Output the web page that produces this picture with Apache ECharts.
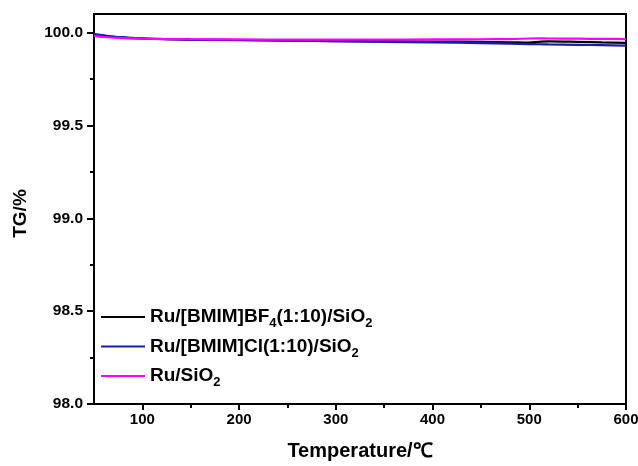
<!DOCTYPE html>
<html>
<head>
<meta charset="utf-8">
<script src="https://cdn.jsdelivr.net/npm/echarts@6/dist/echarts.min.js"></script>
<style>
  html, body { margin: 0; padding: 0; background: #fff; }
  #chart { width: 638px; height: 466px; }
</style>
</head>
<body>
<div id="chart"></div>
<script>
// Temperature sampling points (°C)
const temperature = [50, 60, 75, 100, 125, 150, 200, 250, 300, 350, 400, 450, 480, 500, 510, 520, 550, 575, 600];

// TG (%) curves
const tgBF4   = [99.990, 99.983, 99.975, 99.968, 99.964, 99.962, 99.960, 99.958, 99.956, 99.954, 99.952, 99.950, 99.948, 99.946, 99.950, 99.953, 99.950, 99.947, 99.945];
const tgCl    = [99.992, 99.985, 99.976, 99.969, 99.965, 99.962, 99.959, 99.956, 99.953, 99.950, 99.947, 99.943, 99.940, 99.938, 99.937, 99.936, 99.934, 99.932, 99.930];
const tgSiO2  = [99.982, 99.976, 99.971, 99.967, 99.965, 99.964, 99.963, 99.962, 99.962, 99.962, 99.963, 99.964, 99.965, 99.968, 99.969, 99.968, 99.967, 99.966, 99.965];

const seriesNames = ['Ru/[BMIM]BF4(1:10)/SiO2', 'Ru/[BMIM]Cl(1:10)/SiO2', 'Ru/SiO2'];
const legendRich  = ['Ru/[BMIM]BF{sub|4}(1:10)/SiO{sub|2}', 'Ru/[BMIM]Cl(1:10)/SiO{sub|2}', 'Ru/SiO{sub|2}'];
const seriesColors = ['#000000', '#1a1aa8', '#ff00ff'];

// Axis ticks
const xMajorTicks = [100, 200, 300, 400, 500, 600];
const xMinorTicks = [150, 250, 350, 450, 550];
const yMajorTicks = [98.0, 98.5, 99.0, 99.5, 100.0];
const yMinorTicks = [98.25, 98.75, 99.25, 99.75];

const FONT = '"Liberation Sans", Arial, sans-serif';

function pairs(values) {
  return temperature.map((t, i) => [t, values[i]]);
}

const chart = echarts.init(document.getElementById('chart'));

const axisLineStyle = { color: '#000', width: 2 };

chart.setOption({
  animation: false,
  backgroundColor: '#fff',
  grid: {
    left: 94, right: 12, top: 14, bottom: 62,
    outerBoundsMode: 'none',
    show: true, borderColor: '#000', borderWidth: 2
  },
  legend: {
    orient: 'vertical',
    left: 101,
    top: 304,
    padding: 0,
    itemWidth: 44,
    itemHeight: 2,
    itemGap: 3.5,
    icon: 'rect',
    data: seriesNames,
    formatter: name => legendRich[seriesNames.indexOf(name)],
    textStyle: {
      fontFamily: FONT, fontSize: 19, fontWeight: 'bold', color: '#000',
      lineHeight: 26,
      rich: {
        sub: { fontFamily: FONT, fontSize: 13, fontWeight: 'bold', color: '#000',
               lineHeight: 10, verticalAlign: 'bottom' }
      }
    }
  },
  xAxis: [
    {
      type: 'value', min: 50, max: 600,
      name: 'Temperature/℃',
      nameLocation: 'middle', nameGap: 37,
      nameTextStyle: { fontFamily: FONT, fontSize: 20, fontWeight: 'bold', color: '#000' },
      axisLine: { show: true, lineStyle: axisLineStyle },
      axisTick: { show: true, length: 6, lineStyle: { color: '#000', width: 2 }, customValues: xMajorTicks },
      axisLabel: { show: true, fontFamily: FONT, fontSize: 15, fontWeight: 'bold', color: '#000', margin: 8,
                   customValues: xMajorTicks },
      splitLine: { show: false }
    },
    {
      type: 'value', min: 50, max: 600, position: 'bottom',
      axisLine: { show: false },
      axisTick: { show: true, length: 4, lineStyle: { color: '#000', width: 2 }, customValues: xMinorTicks },
      axisLabel: { show: false },
      splitLine: { show: false }
    }
  ],
  yAxis: [
    {
      type: 'value', min: 98.0, max: 100.1,
      name: 'TG/%',
      nameLocation: 'middle', nameGap: 64, nameRotate: 90,
      nameTextStyle: { fontFamily: FONT, fontSize: 19, fontWeight: 'bold', color: '#000', padding: [0, 9, 0, 0] },
      axisLine: { show: true, lineStyle: axisLineStyle },
      axisTick: { show: true, length: 7, lineStyle: { color: '#000', width: 2 }, customValues: yMajorTicks },
      axisLabel: { show: true, fontFamily: FONT, fontSize: 15.5, fontWeight: 'bold', color: '#000', margin: 11,
                   customValues: yMajorTicks, formatter: v => v.toFixed(1) },
      splitLine: { show: false }
    },
    {
      type: 'value', min: 98.0, max: 100.1, position: 'left',
      axisLine: { show: false },
      axisTick: { show: true, length: 4, lineStyle: { color: '#000', width: 2 }, customValues: yMinorTicks },
      axisLabel: { show: false },
      splitLine: { show: false }
    }
  ],
  series: [
    { name: seriesNames[0], type: 'line', data: pairs(tgBF4), symbol: 'none', smooth: 0.3,
      color: seriesColors[0], lineStyle: { width: 2.2, color: seriesColors[0] } },
    { name: seriesNames[1], type: 'line', data: pairs(tgCl), symbol: 'none', smooth: 0.3,
      color: seriesColors[1], lineStyle: { width: 2.2, color: seriesColors[1] } },
    { name: seriesNames[2], type: 'line', data: pairs(tgSiO2), symbol: 'none', smooth: 0.3,
      color: seriesColors[2], lineStyle: { width: 2.2, color: seriesColors[2] } }
  ]
});
</script>
</body>
</html>
